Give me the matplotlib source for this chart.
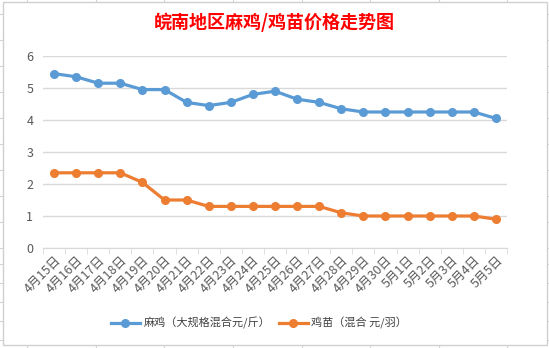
import matplotlib
matplotlib.use("Agg")
import matplotlib.pyplot as plt
from matplotlib.lines import Line2D
from matplotlib.patches import Rectangle

plt.rcParams['font.family'] = ['Noto Sans CJK SC', 'DejaVu Sans']

dates = ["4月15日", "4月16日", "4月17日", "4月18日", "4月19日", "4月20日", "4月21日",
         "4月22日", "4月23日", "4月24日", "4月25日", "4月26日", "4月27日", "4月28日",
         "4月29日", "4月30日", "5月1日", "5月2日", "5月3日", "5月4日", "5月5日"]
chicken = [5.45, 5.35, 5.15, 5.15, 4.95, 4.95, 4.55, 4.45, 4.55, 4.8, 4.9,
           4.65, 4.55, 4.35, 4.25, 4.25, 4.25, 4.25, 4.25, 4.25, 4.05]
chick = [2.35, 2.35, 2.35, 2.35, 2.05, 1.5, 1.5, 1.3, 1.3, 1.3, 1.3,
         1.3, 1.3, 1.1, 1.0, 1.0, 1.0, 1.0, 1.0, 1.0, 0.9]
series_names = ["麻鸡（大规格混合元/斤）", "鸡苗（混合 元/羽）"]
title = "皖南地区麻鸡/鸡苗价格走势图"
yticks = [0, 1, 2, 3, 4, 5, 6]

W, H = 549, 348
fig = plt.figure(figsize=(W / 100, H / 100), dpi=100)
fig.patch.set_facecolor("white")

# spreadsheet background stubs
gc = "#d4d4d4"
for x in [27, 96, 164, 233, 302, 370, 439, 507]:
    fig.add_artist(Line2D([x / W, x / W], [1, 0], color=gc, lw=0.8, zorder=0))
for y in [14, 40, 66, 92, 118, 144, 170, 196, 222, 248, 264, 283, 302, 321, 340]:
    fig.add_artist(Line2D([0, 1], [1 - y / H, 1 - y / H], color=gc, lw=0.8, zorder=0))
fig.add_artist(Rectangle((3 / W, 1 - 345 / H), (547 - 3) / W, (345 - 2) / H,
                         facecolor="white", edgecolor="#d0d0d0", lw=1.0, zorder=0.5))

ax = fig.add_axes([43 / W, 1 - 248 / H, (507 - 43) / W, (248 - 56) / H])
ax.set_facecolor("none")
ax.set_zorder(2)
x = list(range(len(dates)))
ax.plot(x, chicken, color="#5b9bd5", lw=2.3, marker="o", ms=5.5, label=series_names[0], zorder=3)
ax.plot(x, chick, color="#ed7d31", lw=2.3, marker="o", ms=5.5, label=series_names[1], zorder=3)

ax.set_xlim(-0.5, len(dates) - 0.5)
ax.set_ylim(0, 6)
ax.set_yticks(yticks)
ax.yaxis.grid(True, color="#d9d9d9", lw=1)
ax.set_axisbelow(True)
for s in ["top", "right", "left"]:
    ax.spines[s].set_visible(False)
ax.spines["bottom"].set_color("#d9d9d9")
ax.tick_params(axis="y", length=0, labelsize=9, labelcolor="#595959", pad=7)
ax.set_xticks(x)
ax.set_xticklabels(dates, rotation=45, ha="right", rotation_mode="anchor",
                   fontsize=9, color="#595959")
ax.tick_params(axis="x", which="major", length=0, pad=4)
ax.set_xticks([i - 0.5 for i in range(len(dates) + 1)], minor=True)
ax.tick_params(axis="x", which="minor", length=4, color="#d9d9d9", direction="out")

fig.text(0.5, 1 - 22 / H, title, ha="center", va="center", color="#ff0000",
         fontsize=13, fontweight="bold")

fig.legend(loc="center", bbox_to_anchor=(259 / W, 1 - 323 / H), ncol=2, frameon=False,
           fontsize=8, labelcolor="#404040", handlelength=2.6, columnspacing=0.8,
           handletextpad=0.3)

fig.savefig("out.png", dpi=100)
